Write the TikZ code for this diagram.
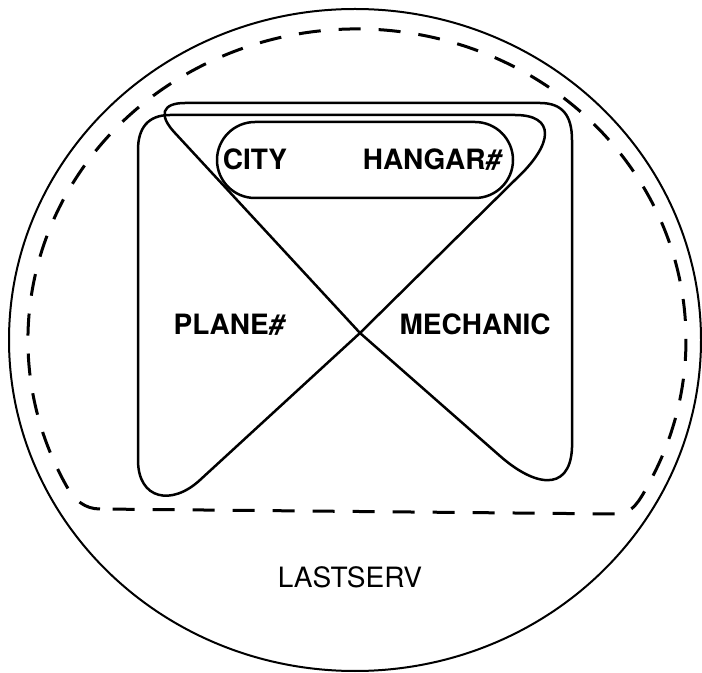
\documentclass[tikz,border=0pt]{standalone}
\usepackage{fontspec}
\setmainfont{TeX Gyre Heros}
\begin{document}
\begin{tikzpicture}[x=0.5pt,y=-0.5pt, line join=round, line cap=round,
  setline/.style={line width=1.25pt},
  dashline/.style={line width=1.5pt, line cap=butt, dash pattern=on 11pt off 9pt},
  lbl/.style={font=\bfseries\fontsize{14}{16}\selectfont, text height=10pt, text depth=0pt, inner sep=0pt},
  plainlbl/.style={font=\fontsize{14}{16}\selectfont, text height=10pt, text depth=0pt, inner sep=0pt},
]
\useasboundingbox (0,0) rectangle (702,673);
% outer circle (LASTSERV)
\draw[line width=1pt] (355,340) ellipse[x radius=346, y radius=331];
% dashed region
\draw[dashline] (100,509) .. controls (85,509) and (74,500) .. (66.5,486)
  arc[start angle=-208, end angle=28, x radius=329, y radius=311]
  .. controls (640,500) and (632,514) .. (618,514) -- cycle;
% PLANE# set
\draw[setline] (138,150) -- (138,460) .. controls (138,500) and (172,506) .. (200,480)
  -- (360,333) -- (515,180) .. controls (555,143) and (555,115) .. (515,115)
  -- (170,115) .. controls (148,115) and (138,128) .. cycle;
% MECHANIC set
\draw[setline] (185,103) -- (540,103) .. controls (562,103) and (572,115) .. (572,140)
  -- (572,440) .. controls (574,490) and (540,491) .. (500,456)
  -- (360,333) -- (175,133) .. controls (158,115) and (162,103) .. cycle;
% CITY HANGAR# set
\draw[setline, rounded corners=19pt] (217,122) rectangle (513,198);
% labels
\node[lbl] (city) at (255,160) {CITY};
\node[lbl] (hangar) at (432,160) {HANGAR{\itshape\#}};
\node[lbl] (plane) at (229,325) {PLANE{\itshape\#}};
\node[lbl] (mech) at (475,325) {MECHANIC};
\node[plainlbl] (last) at (350,578) {LASTSERV};
\end{tikzpicture}
\end{document}
